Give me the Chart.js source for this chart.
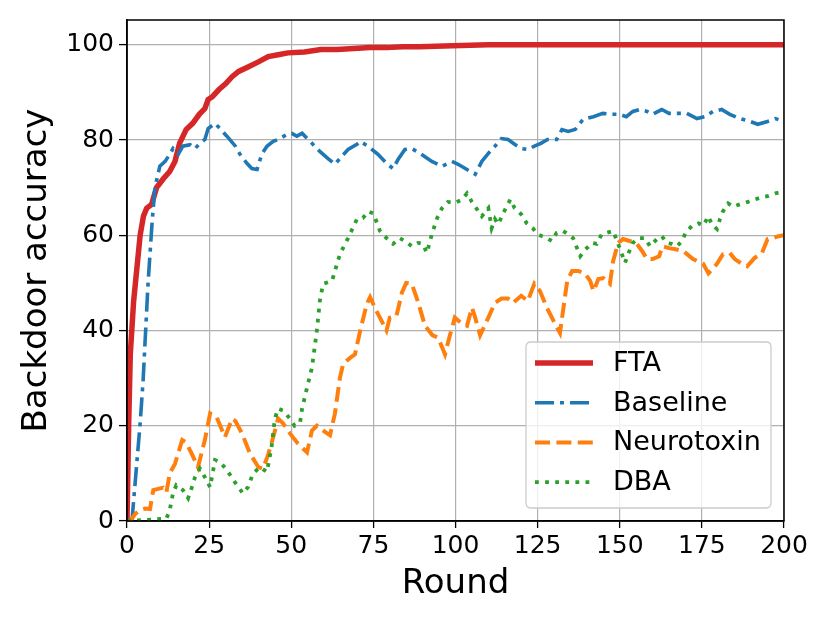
<!DOCTYPE html>
<html>
<head>
<meta charset="utf-8">
<script src="https://cdn.jsdelivr.net/npm/chart.js@4.4.1/dist/chart.umd.min.js"></script>
<style>
  html, body { margin: 0; padding: 0; background: #fff; }
  #wrap { width: 830px; height: 623px; }
</style>
</head>
<body>
<div id="wrap"><canvas id="chart" width="830" height="623"></canvas></div>
<script>
// values
const ftaRounds = [0, 0.5, 1, 2, 3, 4, 5, 6, 7.5, 9, 11, 13, 14.6, 16, 18, 20, 22, 23.7, 24.7, 26, 28, 30, 32, 34, 37, 40, 43, 46, 49, 54, 59, 64, 69, 74, 79, 84, 89, 99, 110, 130, 150, 175, 200];
const ftaAcc = [0, 20, 35, 46, 53, 60, 64, 65.7, 66.5, 70, 71.8, 73.4, 75.5, 79.3, 82.2, 83.5, 85.4, 86.6, 88.5, 89.1, 90.6, 91.8, 93.3, 94.4, 95.4, 96.4, 97.5, 97.9, 98.3, 98.5, 99, 99, 99.2, 99.4, 99.4, 99.6, 99.6, 99.8, 100, 100, 100, 100, 100];

const baselineRounds = [1.5, 4, 4.9, 6.4, 7.6, 8.5, 10, 11.6, 13, 14, 15.6, 17, 19.2, 20.7, 22.2, 23.7, 24.7, 26.8, 28.3, 30.4, 33, 34.4, 36.5, 38, 39.6, 41, 42.6, 44.5, 46.6, 48.7, 50.2, 51.7, 53.3, 56.3, 58.7, 61.2, 63.3, 65.4, 67.3, 70, 71, 73.4, 76.4, 79, 81, 82.5, 84.6, 86.7, 89.2, 92.8, 95.9, 98.9, 100.8, 103.5, 106, 108, 110, 112, 114, 116, 118, 120, 122, 124, 126, 128, 130.8, 132.4, 134.3, 136.4, 138.8, 142, 144.8, 147, 150, 152, 154, 156, 158.3, 160, 162.8, 165, 167.7, 170.4, 173.5, 176, 178.4, 181, 183.5, 186.6, 189.7, 192, 195, 197.4, 200];
const baselineAcc = [0, 20.5, 29.5, 49.8, 62.3, 70, 74.5, 75.5, 77, 78.2, 77, 78.7, 79, 78.2, 79.3, 80.1, 82.4, 83.5, 82.4, 80.8, 78.7, 77, 75.1, 74, 73.8, 77, 78.7, 79.7, 80.3, 81.2, 81.4, 80.8, 81.4, 79.3, 77.6, 76.1, 74.9, 76.6, 78, 79.1, 79.7, 78.7, 77, 75.1, 74, 75.9, 78, 78.2, 77.2, 75.5, 74.5, 75.5, 74.9, 73.8, 72.8, 75.5, 77.2, 78.7, 80.3, 80.1, 79.1, 78.2, 78, 78.7, 79.3, 80.1, 80.1, 82.2, 81.8, 82.2, 84.3, 84.9, 85.6, 85.4, 85.4, 84.9, 86, 86.4, 86, 85.4, 86.4, 85.6, 85.6, 85.6, 84.5, 84.9, 86, 86.4, 85.4, 84.5, 83.9, 83.3, 83.9, 84.5, 83.9];

const neurotoxinRounds = [0, 1, 2.5, 4, 5.5, 7, 8, 11, 12, 13, 14.6, 16.8, 18, 19.8, 21.6, 23.7, 25.3, 27.3, 29.8, 32, 33, 35, 37.4, 40, 41.4, 43, 44.5, 46, 47.5, 49.6, 52, 54.8, 56.3, 57.8, 59.7, 61.8, 63.3, 64.8, 65.8, 68, 69.4, 71, 73, 74, 76, 79, 80, 82, 83.7, 85, 86.7, 88.6, 90.7, 93, 94.7, 96.8, 98.3, 99.8, 102, 103.5, 105, 106, 107.5, 110, 112, 114, 116, 117.5, 120, 122, 124, 125.7, 127.8, 130.3, 131.8, 134, 135.5, 137.4, 139.5, 141, 142, 143.5, 145, 147, 148, 149.5, 151, 153, 155, 156.8, 158.3, 160, 162, 163, 165, 167.4, 169.3, 172.3, 175.4, 177, 179.6, 181.4, 183.5, 185, 187.2, 188.8, 191, 193.3, 195, 196.7, 198.3, 200];
const neurotoxinAcc = [0, 0, 1.5, 2.3, 2.6, 2.5, 6.5, 7, 6, 10, 12, 17, 16.5, 14, 11.3, 17, 22.6, 21.8, 17.6, 21.5, 21, 18.4, 14.2, 11.3, 11, 14, 17.6, 21.5, 20.5, 18.4, 16.3, 14.4, 19, 20, 19, 18, 22.6, 30, 33, 34.3, 35, 40, 45.6, 47, 44, 40, 42.7, 43, 48, 50, 49.8, 46, 41, 39, 38.5, 35, 39, 42.7, 41.4, 41, 44.8, 42.7, 39, 42.7, 45.8, 46.7, 46.7, 45.8, 47.3, 46.2, 49.8, 48.3, 44.8, 41.4, 39.5, 50.4, 52.5, 52.5, 51.9, 50.4, 48.3, 50.8, 51, 49.8, 54.6, 58.4, 59.2, 58.8, 58.4, 56.7, 55, 55, 55.6, 57.7, 57.3, 57, 56.7, 55, 54, 52, 54, 56, 56.3, 55, 54, 53.5, 55.2, 56.3, 59.2, 59.4, 59.8, 60];

const dbaRounds = [0, 12, 13, 14, 15, 17, 18.6, 19.7, 20.7, 22.2, 23.7, 25.3, 26.8, 28.3, 30.4, 33, 35.3, 36.8, 38.4, 40.5, 42.6, 44, 45, 46, 47.5, 49.6, 51, 52.7, 53.3, 54.8, 56.3, 57.8, 58.7, 59.7, 62.4, 63.3, 64.8, 67.3, 70, 71.8, 73.4, 75, 77, 79, 81, 83, 84.6, 86.7, 88.6, 90, 91.3, 92.8, 94.4, 95.9, 97.7, 99.8, 102, 103.5, 105, 106.5, 108, 110, 111, 112, 113, 114.5, 116.7, 118, 120, 121.7, 123.5, 125, 127.8, 129.3, 130.8, 132.7, 134.3, 135.8, 137, 138, 139.5, 141.6, 143, 144.5, 146, 148, 149.5, 150, 151.6, 152.5, 154, 155.6, 157.7, 159.2, 161.3, 162.8, 164.3, 165.8, 167.4, 169, 170, 172, 174, 175.4, 177, 178, 179.6, 180.5, 181.4, 183, 184.5, 186.6, 189, 191, 193.3, 195, 197.4, 200];
const dbaAcc = [0, 0.5, 2.3, 5.8, 7.5, 6.5, 4.8, 7, 9.2, 11, 9.2, 7.1, 12.8, 12.4, 10.7, 8, 5.8, 7.1, 10, 11.3, 10.3, 15.5, 21.5, 23.6, 23.2, 21.5, 20, 20.7, 23.6, 28, 32.2, 40, 46.2, 49.8, 50.4, 52.5, 56, 59.4, 63.4, 63.6, 65, 64.6, 60.9, 59.4, 58.2, 59.4, 58.8, 57.7, 58.4, 58.2, 56.3, 60.2, 63.6, 65.7, 67, 66.8, 67.5, 68.8, 67, 65.5, 64, 65.7, 61.5, 63.4, 62.3, 64.6, 67.5, 65.7, 64.4, 62.5, 61.5, 60.2, 59.4, 58.8, 60.5, 60.9, 60.2, 59.4, 57.3, 55.6, 57, 58.4, 58.2, 60.2, 60.5, 60.9, 58.2, 57.3, 54.2, 56, 58.4, 59.4, 59.4, 57.7, 59.2, 59.8, 58.4, 58.2, 57.7, 58.8, 60.5, 62, 62.5, 62, 64, 62.3, 61.3, 63.4, 65, 66.7, 66, 66.5, 67, 67.5, 68, 68.2, 68.8, 69.2];

const xTicks = [0, 25, 50, 75, 100, 125, 150, 175, 200];
const yTicks = [0, 20, 40, 60, 80, 100];

function toPoints(xs, ys) {
  return xs.map((x, i) => ({ x: x, y: ys[i] }));
}

// black frame on all four sides, like matplotlib spines
const framePlugin = {
  id: 'frame',
  afterDatasetsDraw(chart) {
    const a = chart.chartArea;
    const ctx = chart.ctx;
    ctx.save();
    ctx.strokeStyle = '#000';
    ctx.lineWidth = 1.5;
    ctx.strokeRect(a.left, a.top, a.right - a.left, a.bottom - a.top);
    ctx.restore();
  }
};

// legend box in the lower right corner of the plot
const boxLegend = {
  id: 'boxLegend',
  afterDraw(chart) {
    const ctx = chart.ctx;
    const a = chart.chartArea;
    const w = 245, h = 166, r = 5;
    const x0 = a.right - 13 - w, y0 = a.bottom - 13 - h;
    ctx.save();
    ctx.beginPath();
    ctx.moveTo(x0 + r, y0);
    ctx.lineTo(x0 + w - r, y0);
    ctx.quadraticCurveTo(x0 + w, y0, x0 + w, y0 + r);
    ctx.lineTo(x0 + w, y0 + h - r);
    ctx.quadraticCurveTo(x0 + w, y0 + h, x0 + w - r, y0 + h);
    ctx.lineTo(x0 + r, y0 + h);
    ctx.quadraticCurveTo(x0, y0 + h, x0, y0 + h - r);
    ctx.lineTo(x0, y0 + r);
    ctx.quadraticCurveTo(x0, y0, x0 + r, y0);
    ctx.closePath();
    ctx.fillStyle = 'rgba(255,255,255,0.8)';
    ctx.fill();
    ctx.strokeStyle = '#cccccc';
    ctx.lineWidth = 1.3;
    ctx.stroke();

    chart.data.datasets.forEach((ds, i) => {
      const cy = y0 + 21 + i * 39.7;
      ctx.beginPath();
      ctx.setLineDash(ds.borderDash || []);
      ctx.lineCap = 'butt';
      ctx.strokeStyle = ds.borderColor;
      ctx.lineWidth = ds.borderWidth;
      ctx.moveTo(x0 + 9, cy);
      ctx.lineTo(x0 + 67, cy);
      ctx.stroke();
      ctx.setLineDash([]);
      ctx.fillStyle = '#000';
      ctx.font = '27px "DejaVu Sans"';
      ctx.textBaseline = 'middle';
      ctx.textAlign = 'left';
      ctx.fillText(ds.label, x0 + 87, cy + 1);
    });
    ctx.restore();
  }
};

const ctx = document.getElementById('chart').getContext('2d');
const myChart = new Chart(ctx, {
  type: 'line',
  data: {
    datasets: [{
      label: 'FTA',
      data: toPoints(ftaRounds, ftaAcc),
      borderColor: '#d62728',
      borderWidth: 5.5,
      order: 3
    }, {
      label: 'Baseline',
      data: toPoints(baselineRounds, baselineAcc),
      borderColor: '#1f77b4',
      borderWidth: 3.6,
      borderDash: [19, 6, 4, 6],
      order: 2
    }, {
      label: 'Neurotoxin',
      data: toPoints(neurotoxinRounds, neurotoxinAcc),
      borderColor: '#ff7f0e',
      borderWidth: 4,
      borderDash: [15, 6.4],
      order: 1
    }, {
      label: 'DBA',
      data: toPoints(dbaRounds, dbaAcc),
      borderColor: '#2ca02c',
      borderWidth: 3.8,
      borderDash: [3.8, 6.3],
      order: 0
    }]
  },
  options: {
    responsive: false,
    animation: false,
    devicePixelRatio: 1,
    layout: { padding: { left: 0, right: 46, top: 18, bottom: 0 } },
    elements: {
      point: { radius: 0 },
      line: { tension: 0, borderCapStyle: 'butt', fill: false }
    },
    datasets: { line: { clip: 0 } },
    scales: {
      x: {
        type: 'linear',
        min: 0,
        max: 200,
        afterFit(scale) { scale.height = 102; },
        afterBuildTicks(scale) { scale.ticks = xTicks.map(v => ({ value: v })); },
        ticks: {
          color: '#000',
          padding: 3,
          maxRotation: 0,
          font: { family: '"DejaVu Sans"', size: 25 }
        },
        grid: {
          color: '#b0b0b0',
          lineWidth: 1.2,
          tickColor: '#000',
          tickLength: 7,
          tickWidth: 1.3
        },
        border: { display: true, color: '#000', width: 1.5 },
        title: {
          display: true,
          text: 'Round',
          color: '#000',
          font: { family: '"DejaVu Sans"', size: 34 },
          padding: { top: 0, bottom: 18 }
        }
      },
      y: {
        min: 0,
        max: 105.2,
        afterFit(scale) { scale.width = 127; },
        afterBuildTicks(scale) { scale.ticks = yTicks.map(v => ({ value: v })); },
        ticks: {
          color: '#000',
          padding: 5,
          font: { family: '"DejaVu Sans"', size: 25 }
        },
        grid: {
          color: '#b0b0b0',
          lineWidth: 1.2,
          tickColor: '#000',
          tickLength: 8,
          tickWidth: 1.3
        },
        border: { display: true, color: '#000', width: 1.5 },
        title: {
          display: true,
          text: 'Backdoor accuracy',
          color: '#000',
          font: { family: '"DejaVu Sans"', size: 34 },
          padding: { top: 17, bottom: 0 }
        }
      }
    },
    plugins: {
      legend: { display: false },
      tooltip: { enabled: false }
    }
  },
  plugins: [framePlugin, boxLegend]
});
</script>
</body>
</html>
